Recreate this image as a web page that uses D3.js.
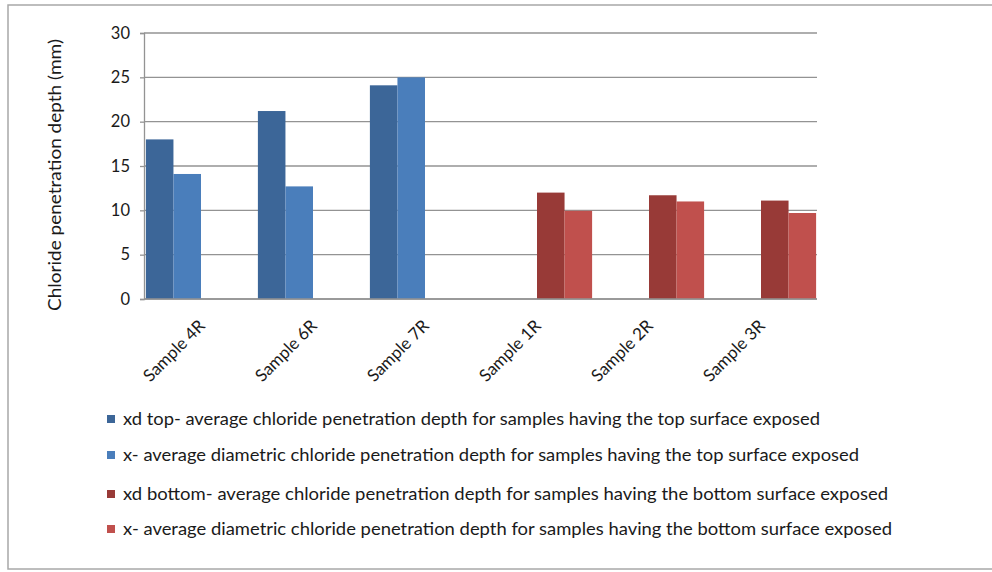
<!DOCTYPE html>
<html>
<head>
<meta charset="utf-8">
<script src="https://cdn.jsdelivr.net/npm/d3@7"></script>
<style>
  html, body { margin: 0; padding: 0; background: #fff; }
  svg { display: block; }
  text { font-family: Lato, "Open Sans", sans-serif; fill: #1a1a1a; }
</style>
</head>
<body>
<svg id="chart" width="992" height="572"></svg>
<script>
// ---- data ----
const categories = ["Sample 4R", "Sample 6R", "Sample 7R", "Sample 1R", "Sample 2R", "Sample 3R"];
const xdTop    = [18.0, 21.2, 24.1, null, null, null];
const xTop     = [14.1, 12.7, 25.0, null, null, null];
const xdBottom = [null, null, null, 12.0, 11.7, 11.1];
const xBottom  = [null, null, null, 9.95, 11.0, 9.7];
const seriesNames = [
  "xd top- average chloride penetration depth for samples having the top surface exposed",
  "x- average diametric chloride penetration depth for samples having the top surface exposed",
  "xd bottom- average chloride penetration depth for samples having the bottom surface exposed",
  "x- average diametric chloride penetration depth for samples having the bottom surface exposed"
];
const yTicks = [0, 5, 10, 15, 20, 25, 30];
const yTitle = "Chloride penetration depth (mm)";

// ---- styling ----
const colors = ["#3c6698", "#4a7ebb", "#983a37", "#c0504d"];
const seriesValues = [xdTop, xTop, xdBottom, xBottom];

const svg = d3.select("#chart");

// outer frame
svg.append("rect")
  .attr("x", 8).attr("y", 5).attr("width", 1000).attr("height", 564)
  .attr("fill", "none").attr("stroke", "#a8a8a8").attr("stroke-width", 1.5);

const plot = { left: 145, right: 817, top: 33, bottom: 299 };

const x = d3.scaleBand().domain(categories)
  .range([plot.left, plot.right]).paddingInner(0.016).paddingOuter(0.008);
const xs = d3.scaleBand().domain(d3.range(seriesValues.length)).range([0, x.bandwidth()]);
const y = d3.scaleLinear().domain([0, 30]).range([plot.bottom, plot.top]);

// gridlines
svg.append("g").selectAll("line").data(yTicks).join("line")
  .attr("x1", plot.left - 1).attr("x2", plot.right)
  .attr("y1", d => y(d)).attr("y2", d => y(d))
  .attr("stroke", "#939393").attr("stroke-width", 1.3);

// y axis
const yAxis = svg.append("g").attr("transform", `translate(${plot.left - 1},0)`)
  .call(d3.axisLeft(y).tickValues(yTicks).tickSize(4).tickPadding(10).tickFormat(d3.format("d")));
yAxis.select(".domain").attr("stroke", "#939393").attr("stroke-width", 1.3);
yAxis.selectAll(".tick line").attr("stroke", "#939393").attr("stroke-width", 1.3);
yAxis.selectAll("text").attr("font-size", 16.5).attr("fill", "#1a1a1a")
  .style("font-family", "Lato, 'Open Sans', sans-serif");

// bars
const rows = [];
categories.forEach((c, i) => {
  seriesValues.forEach((vals, s) => {
    if (vals[i] != null) rows.push({ c, s, v: vals[i] });
  });
});
svg.append("g").selectAll("rect").data(rows).join("rect")
  .attr("x", d => x(d.c) + xs(d.s))
  .attr("width", xs.bandwidth())
  .attr("y", d => y(d.v))
  .attr("height", d => y(0) - y(d.v))
  .attr("fill", d => colors[d.s]);

// baseline over bars
svg.append("line")
  .attr("x1", plot.left - 1).attr("x2", plot.right)
  .attr("y1", y(0)).attr("y2", y(0))
  .attr("stroke", "#939393").attr("stroke-width", 1.3);

// x labels (rotated)
svg.append("g").selectAll("text").data(categories).join("text")
  .attr("transform", d => `translate(${x(d) + x.bandwidth() / 2 + 5},${plot.bottom + 28}) rotate(-45)`)
  .attr("text-anchor", "end")
  .attr("font-size", 17)
  .text(d => d);

// y title
svg.append("text")
  .attr("transform", `translate(61,175) rotate(-90)`)
  .attr("text-anchor", "middle")
  .attr("font-size", 17)
  .attr("textLength", 272)
  .attr("lengthAdjust", "spacingAndGlyphs")
  .text(yTitle);

// legend
const legendY = [419, 455, 494, 529];
const legendW = [697, 736, 765, 769];
const lg = svg.append("g");
seriesNames.forEach((name, i) => {
  lg.append("rect")
    .attr("x", 107).attr("y", legendY[i] - 4).attr("width", 8).attr("height", 8)
    .attr("fill", colors[i]);
  lg.append("text")
    .attr("x", 123).attr("y", legendY[i] + 6)
    .attr("font-size", 17)
    .attr("textLength", legendW[i])
    .attr("lengthAdjust", "spacingAndGlyphs")
    .text(name);
});
</script>
</body>
</html>
